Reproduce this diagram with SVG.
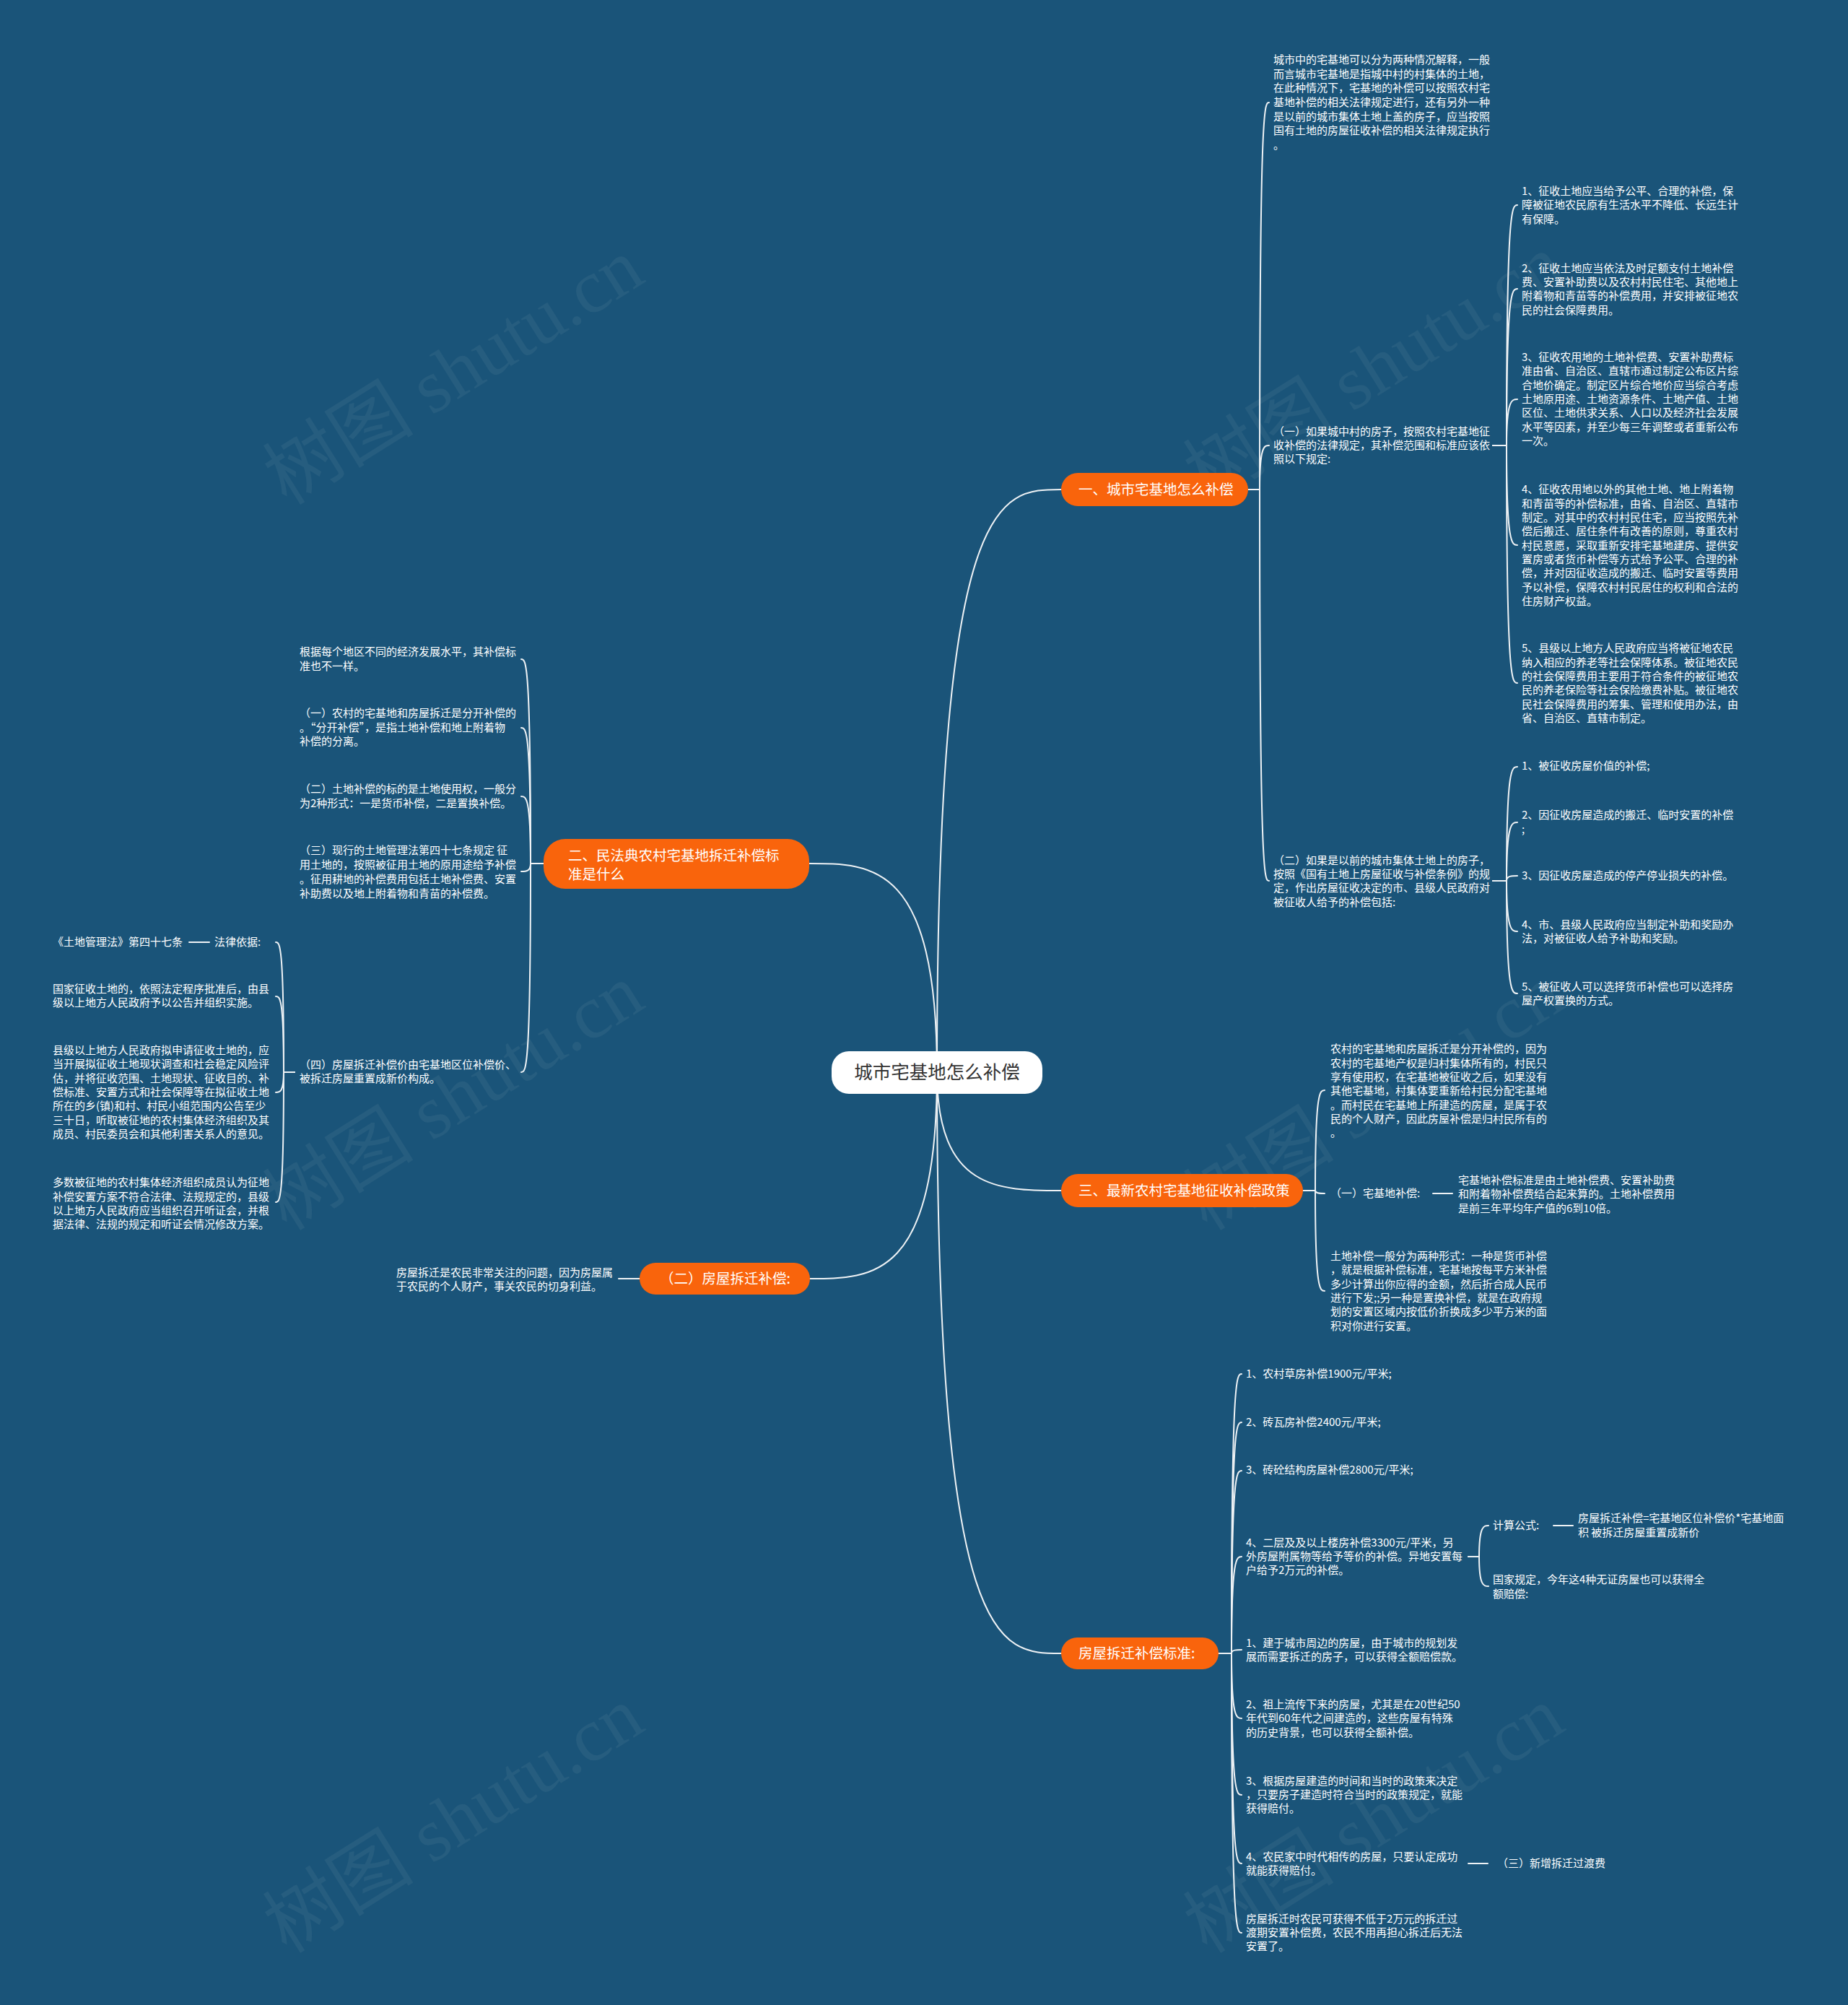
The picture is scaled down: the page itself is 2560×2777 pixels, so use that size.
<svg xmlns="http://www.w3.org/2000/svg" width="2560" height="2777" viewBox="0 0 2560 2777">
<style>
.t{font-family:"Noto Sans CJK SC","Noto Sans",sans-serif;font-size:15px;fill:#ffffff;dominant-baseline:central;transform:translateY(-1.8px)}
.b{font-size:19.5px}
.r{font-size:25.5px;fill:#333333;text-anchor:middle;transform:translateY(-3.5px)}
.ob{fill:#f9640c}
.c path{fill:none;stroke:#eef2f5;stroke-width:2;stroke-linecap:round}
.wm{font-family:"Liberation Serif","Noto Sans CJK SC",serif;font-size:105px;fill:#c8d2da;fill-opacity:0.07}
</style>
<rect width="2560" height="2777" fill="#1a5479"/>
<g id="watermarks">
<text class="wm" text-anchor="middle" transform="translate(647,545) rotate(-32)">树图 shutu.cn</text>
<text class="wm" text-anchor="middle" transform="translate(1922,540) rotate(-32)">树图 shutu.cn</text>
<text class="wm" text-anchor="middle" transform="translate(647,1550) rotate(-32)">树图 shutu.cn</text>
<text class="wm" text-anchor="middle" transform="translate(1922,1550) rotate(-32)">树图 shutu.cn</text>
<text class="wm" text-anchor="middle" transform="translate(647,2551) rotate(-32)">树图 shutu.cn</text>
<text class="wm" text-anchor="middle" transform="translate(1922,2551) rotate(-32)">树图 shutu.cn</text>
</g>
<g id="connectors" class="c">
<path d="M1298,1485 C1298,678 1384,678 1470,678"/>
<path d="M1298,1485 C1298,1196 1209,1196 1121,1196"/>
<path d="M1298,1485 C1298,1649 1384,1649 1470,1649"/>
<path d="M1298,1485 C1298,1771 1210,1771 1122,1771"/>
<path d="M1298,1485 C1298,2290 1384,2290 1470,2290"/>
<path d="M1729,678 H1745 C1745,142 1751.5,142 1758,142"/>
<path d="M1729,678 H1745 C1745,617 1751.5,617 1758,617"/>
<path d="M1729,678 H1745 C1745,1220 1751.5,1220 1758,1220"/>
<path d="M2068,617 H2087 C2087,284 2094.5,284 2102,284"/>
<path d="M2068,617 H2087 C2087,400 2094.5,400 2102,400"/>
<path d="M2068,617 H2087 C2087,553 2094.5,553 2102,553"/>
<path d="M2068,617 H2087 C2087,755 2094.5,755 2102,755"/>
<path d="M2068,617 H2087 C2087,946 2094.5,946 2102,946"/>
<path d="M2068,1220 H2087 C2087,1062 2094.5,1062 2102,1062"/>
<path d="M2068,1220 H2087 C2087,1139 2094.5,1139 2102,1139"/>
<path d="M2068,1220 H2087 C2087,1213 2094.5,1213 2102,1213"/>
<path d="M2068,1220 H2087 C2087,1290 2094.5,1290 2102,1290"/>
<path d="M2068,1220 H2087 C2087,1376 2094.5,1376 2102,1376"/>
<path d="M753,1196 H735 C735,913 728.5,913 722,913"/>
<path d="M753,1196 H735 C735,1008 728.5,1008 722,1008"/>
<path d="M753,1196 H735 C735,1103 728.5,1103 722,1103"/>
<path d="M753,1196 H735 C735,1207 728.5,1207 722,1207"/>
<path d="M753,1196 H735 C735,1485 728.5,1485 722,1485"/>
<path d="M408,1485 H393 C393,1305 387.5,1305 382,1305"/>
<path d="M408,1485 H393 C393,1380 387.5,1380 382,1380"/>
<path d="M408,1485 H393 C393,1513 387.5,1513 382,1513"/>
<path d="M408,1485 H393 C393,1665 387.5,1665 382,1665"/>
<path d="M262,1305 H290"/>
<path d="M886,1771 H857"/>
<path d="M1805,1649 H1822 C1822,1510 1828.5,1510 1835,1510"/>
<path d="M1805,1649 H1822 C1822,1653 1828.5,1653 1835,1653"/>
<path d="M1805,1649 H1822 C1822,1788 1828.5,1788 1835,1788"/>
<path d="M1985,1653 H2012"/>
<path d="M1688,2290 H1706 C1706,1903 1713,1903 1720,1903"/>
<path d="M1688,2290 H1706 C1706,1970 1713,1970 1720,1970"/>
<path d="M1688,2290 H1706 C1706,2037 1713,2037 1720,2037"/>
<path d="M1688,2290 H1706 C1706,2156 1713,2156 1720,2156"/>
<path d="M1688,2290 H1706 C1706,2285 1713,2285 1720,2285"/>
<path d="M1688,2290 H1706 C1706,2380 1713,2380 1720,2380"/>
<path d="M1688,2290 H1706 C1706,2486 1713,2486 1720,2486"/>
<path d="M1688,2290 H1706 C1706,2581 1713,2581 1720,2581"/>
<path d="M1688,2290 H1706 C1706,2677 1713,2677 1720,2677"/>
<path d="M2034,2156 H2049 C2049,2113 2055.5,2113 2062,2113"/>
<path d="M2034,2156 H2049 C2049,2197 2055.5,2197 2062,2197"/>
<path d="M2152,2113 H2179"/>
<path d="M2034,2581 H2061"/>
</g>
<g id="root">
<rect x="1152" y="1456" width="292" height="59" rx="24" fill="#ffffff"/>
<text class="t r" x="1298" y="1486">城市宅基地怎么补偿</text>
</g>
<g id="b1">
<rect class="ob" x="1470" y="655" width="259" height="46" rx="23"/>
<text class="t b" x="1494" y="678">一、城市宅基地怎么补偿</text>
</g>
<g id="b2">
<rect class="ob" x="753" y="1162" width="368" height="69" rx="30"/>
<text class="t b"><tspan x="787" y="1185">二、民法典农村宅基地拆迁补偿标</tspan><tspan x="787" y="1211">准是什么</tspan></text>
</g>
<g id="b3">
<rect class="ob" x="1470" y="1626" width="335" height="46" rx="23"/>
<text class="t b" x="1494" y="1649">三、最新农村宅基地征收补偿政策</text>
</g>
<g id="b4">
<rect class="ob" x="886" y="1749" width="236" height="44" rx="22"/>
<text class="t b" x="914" y="1771">（二）房屋拆迁补偿:</text>
</g>
<g id="b5">
<rect class="ob" x="1470" y="2268" width="218" height="44" rx="22"/>
<text class="t b" x="1494" y="2290">房屋拆迁补偿标准:</text>
</g>
<g id="n1a">
<text class="t"><tspan x="1764" y="82.7">城市中的宅基地可以分为两种情况解释，一般</tspan><tspan x="1764" y="102.4">而言城市宅基地是指城中村的村集体的土地，</tspan><tspan x="1764" y="122.1">在此种情况下，宅基地的补偿可以按照农村宅</tspan><tspan x="1764" y="141.8">基地补偿的相关法律规定进行，还有另外一种</tspan><tspan x="1764" y="161.5">是以前的城市集体土地上盖的房子，应当按照</tspan><tspan x="1764" y="181.2">国有土地的房屋征收补偿的相关法律规定执行</tspan><tspan x="1764" y="200.9">。</tspan></text>
</g>
<g id="n1b">
<text class="t"><tspan x="1764" y="597.7">（一）如果城中村的房子，按照农村宅基地征</tspan><tspan x="1764" y="617">收补偿的法律规定，其补偿范围和标准应该依</tspan><tspan x="1764" y="636.3">照以下规定:</tspan></text>
</g>
<g id="n1b1">
<text class="t"><tspan x="2108" y="265">1、征收土地应当给予公平、合理的补偿，保</tspan><tspan x="2108" y="284.3">障被征地农民原有生活水平不降低、长远生计</tspan><tspan x="2108" y="303.6">有保障。</tspan></text>
</g>
<g id="n1b2">
<text class="t"><tspan x="2108" y="371.7">2、征收土地应当依法及时足额支付土地补偿</tspan><tspan x="2108" y="391">费、安置补助费以及农村村民住宅、其他地上</tspan><tspan x="2108" y="410.3">附着物和青苗等的补偿费用，并安排被征地农</tspan><tspan x="2108" y="429.6">民的社会保障费用。</tspan></text>
</g>
<g id="n1b3">
<text class="t"><tspan x="2108" y="495">3、征收农用地的土地补偿费、安置补助费标</tspan><tspan x="2108" y="514.3">准由省、自治区、直辖市通过制定公布区片综</tspan><tspan x="2108" y="533.6">合地价确定。制定区片综合地价应当综合考虑</tspan><tspan x="2108" y="552.9">土地原用途、土地资源条件、土地产值、土地</tspan><tspan x="2108" y="572.2">区位、土地供求关系、人口以及经济社会发展</tspan><tspan x="2108" y="591.5">水平等因素，并至少每三年调整或者重新公布</tspan><tspan x="2108" y="610.8">一次。</tspan></text>
</g>
<g id="n1b4">
<text class="t"><tspan x="2108" y="678.3">4、征收农用地以外的其他土地、地上附着物</tspan><tspan x="2108" y="697.6">和青苗等的补偿标准，由省、自治区、直辖市</tspan><tspan x="2108" y="716.9">制定。对其中的农村村民住宅，应当按照先补</tspan><tspan x="2108" y="736.2">偿后搬迁、居住条件有改善的原则，尊重农村</tspan><tspan x="2108" y="755.5">村民意愿，采取重新安排宅基地建房、提供安</tspan><tspan x="2108" y="774.8">置房或者货币补偿等方式给予公平、合理的补</tspan><tspan x="2108" y="794.1">偿，并对因征收造成的搬迁、临时安置等费用</tspan><tspan x="2108" y="813.4">予以补偿，保障农村村民居住的权利和合法的</tspan><tspan x="2108" y="832.7">住房财产权益。</tspan></text>
</g>
<g id="n1b5">
<text class="t"><tspan x="2108" y="898.3">5、县级以上地方人民政府应当将被征地农民</tspan><tspan x="2108" y="917.6">纳入相应的养老等社会保障体系。被征地农民</tspan><tspan x="2108" y="936.9">的社会保障费用主要用于符合条件的被征地农</tspan><tspan x="2108" y="956.2">民的养老保险等社会保险缴费补贴。被征地农</tspan><tspan x="2108" y="975.5">民社会保障费用的筹集、管理和使用办法，由</tspan><tspan x="2108" y="994.8">省、自治区、直辖市制定。</tspan></text>
</g>
<g id="n1c">
<text class="t"><tspan x="1764" y="1191.7">（二）如果是以前的城市集体土地上的房子，</tspan><tspan x="1764" y="1211">按照《国有土地上房屋征收与补偿条例》的规</tspan><tspan x="1764" y="1230.3">定，作出房屋征收决定的市、县级人民政府对</tspan><tspan x="1764" y="1249.6">被征收人给予的补偿包括:</tspan></text>
</g>
<g id="n1c1"><text class="t" x="2108" y="1061.7">1、被征收房屋价值的补偿;</text></g>
<g id="n1c2"><text class="t"><tspan x="2108" y="1129.3">2、因征收房屋造成的搬迁、临时安置的补偿</tspan><tspan x="2108" y="1148.6">;</tspan></text></g>
<g id="n1c3"><text class="t" x="2108" y="1213.3">3、因征收房屋造成的停产停业损失的补偿。</text></g>
<g id="n1c4"><text class="t"><tspan x="2108" y="1280.7">4、市、县级人民政府应当制定补助和奖励办</tspan><tspan x="2108" y="1300">法，对被征收人给予补助和奖励。</tspan></text></g>
<g id="n1c5"><text class="t"><tspan x="2108" y="1366.7">5、被征收人可以选择货币补偿也可以选择房</tspan><tspan x="2108" y="1386">屋产权置换的方式。</tspan></text></g>
<g id="n2a"><text class="t"><tspan x="415" y="903.3">根据每个地区不同的经济发展水平，其补偿标</tspan><tspan x="415" y="922.6">准也不一样。</tspan></text></g>
<g id="n2b"><text class="t"><tspan x="415" y="988.3">（一）农村的宅基地和房屋拆迁是分开补偿的</tspan><tspan x="415" y="1007.6">。“分开补偿”，是指土地补偿和地上附着物</tspan><tspan x="415" y="1026.9">补偿的分离。</tspan></text></g>
<g id="n2c"><text class="t"><tspan x="415" y="1093.3">（二）土地补偿的标的是土地使用权，一般分</tspan><tspan x="415" y="1112.6">为2种形式：一是货币补偿，二是置换补偿。</tspan></text></g>
<g id="n2d"><text class="t"><tspan x="415" y="1177.7">（三）现行的土地管理法第四十七条规定 征</tspan><tspan x="415" y="1197.7">用土地的，按照被征用土地的原用途给予补偿</tspan><tspan x="415" y="1217.7">。征用耕地的补偿费用包括土地补偿费、安置</tspan><tspan x="415" y="1237.7">补助费以及地上附着物和青苗的补偿费。</tspan></text></g>
<g id="n2e"><text class="t"><tspan x="415" y="1475">（四）房屋拆迁补偿价由宅基地区位补偿价、</tspan><tspan x="415" y="1494.3">被拆迁房屋重置成新价构成。</tspan></text></g>
<g id="n2e1"><text class="t" x="297" y="1305">法律依据:</text></g>
<g id="n2e1a"><text class="t" x="73" y="1305">《土地管理法》第四十七条</text></g>
<g id="n2e2"><text class="t"><tspan x="73" y="1370">国家征收土地的，依照法定程序批准后，由县</tspan><tspan x="73" y="1389.3">级以上地方人民政府予以公告并组织实施。</tspan></text></g>
<g id="n2e3"><text class="t"><tspan x="73" y="1455">县级以上地方人民政府拟申请征收土地的，应</tspan><tspan x="73" y="1474.3">当开展拟征收土地现状调查和社会稳定风险评</tspan><tspan x="73" y="1493.6">估，并将征收范围、土地现状、征收目的、补</tspan><tspan x="73" y="1512.9">偿标准、安置方式和社会保障等在拟征收土地</tspan><tspan x="73" y="1532.2">所在的乡(镇)和村、村民小组范围内公告至少</tspan><tspan x="73" y="1551.5">三十日，听取被征地的农村集体经济组织及其</tspan><tspan x="73" y="1570.8">成员、村民委员会和其他利害关系人的意见。</tspan></text></g>
<g id="n2e4"><text class="t"><tspan x="73" y="1638.3">多数被征地的农村集体经济组织成员认为征地</tspan><tspan x="73" y="1657.6">补偿安置方案不符合法律、法规规定的，县级</tspan><tspan x="73" y="1676.9">以上地方人民政府应当组织召开听证会，并根</tspan><tspan x="73" y="1696.2">据法律、法规的规定和听证会情况修改方案。</tspan></text></g>
<g id="n4a"><text class="t"><tspan x="549" y="1762.5">房屋拆迁是农民非常关注的问题，因为房屋属</tspan><tspan x="549" y="1781.8">于农民的个人财产，事关农民的切身利益。</tspan></text></g>
<g id="n3a"><text class="t"><tspan x="1843" y="1453.3">农村的宅基地和房屋拆迁是分开补偿的，因为</tspan><tspan x="1843" y="1472.6">农村的宅基地产权是归村集体所有的，村民只</tspan><tspan x="1843" y="1491.9">享有使用权，在宅基地被征收之后，如果没有</tspan><tspan x="1843" y="1511.2">其他宅基地，村集体要重新给村民分配宅基地</tspan><tspan x="1843" y="1530.5">。而村民在宅基地上所建造的房屋，是属于农</tspan><tspan x="1843" y="1549.8">民的个人财产，因此房屋补偿是归村民所有的</tspan><tspan x="1843" y="1569.1">。</tspan></text></g>
<g id="n3b"><text class="t" x="1843" y="1653">（一）宅基地补偿:</text></g>
<g id="n3b1"><text class="t"><tspan x="2020" y="1635">宅基地补偿标准是由土地补偿费、安置补助费</tspan><tspan x="2020" y="1654.3">和附着物补偿费结合起来算的。土地补偿费用</tspan><tspan x="2020" y="1673.6">是前三年平均年产值的6到10倍。</tspan></text></g>
<g id="n3c"><text class="t"><tspan x="1843" y="1740">土地补偿一般分为两种形式：一种是货币补偿</tspan><tspan x="1843" y="1759.3">，就是根据补偿标准，宅基地按每平方米补偿</tspan><tspan x="1843" y="1778.6">多少计算出你应得的金额，然后折合成人民币</tspan><tspan x="1843" y="1797.9">进行下发;;另一种是置换补偿，就是在政府规</tspan><tspan x="1843" y="1817.2">划的安置区域内按低价折换成多少平方米的面</tspan><tspan x="1843" y="1836.5">积对你进行安置。</tspan></text></g>
<g id="n5a"><text class="t" x="1726" y="1903.3">1、农村草房补偿1900元/平米;</text></g>
<g id="n5b"><text class="t" x="1726" y="1970">2、砖瓦房补偿2400元/平米;</text></g>
<g id="n5c"><text class="t" x="1726" y="2036.7">3、砖砼结构房屋补偿2800元/平米;</text></g>
<g id="n5d"><text class="t"><tspan x="1726" y="2136.7">4、二层及及以上楼房补偿3300元/平米，另</tspan><tspan x="1726" y="2156">外房屋附属物等给予等价的补偿。异地安置每</tspan><tspan x="1726" y="2175.3">户给予2万元的补偿。</tspan></text></g>
<g id="n5d1"><text class="t" x="2068" y="2113.3">计算公式:</text></g>
<g id="n5d1a"><text class="t"><tspan x="2186" y="2103.3">房屋拆迁补偿=宅基地区位补偿价*宅基地面</tspan><tspan x="2186" y="2122.6">积 被拆迁房屋重置成新价</tspan></text></g>
<g id="n5d2"><text class="t"><tspan x="2068" y="2188.3">国家规定，今年这4种无证房屋也可以获得全</tspan><tspan x="2068" y="2207.6">额赔偿:</tspan></text></g>
<g id="n5e"><text class="t"><tspan x="1726" y="2276">1、建于城市周边的房屋，由于城市的规划发</tspan><tspan x="1726" y="2295.3">展而需要拆迁的房子，可以获得全额赔偿款。</tspan></text></g>
<g id="n5f"><text class="t"><tspan x="1726" y="2361">2、祖上流传下来的房屋，尤其是在20世纪50</tspan><tspan x="1726" y="2380.3">年代到60年代之间建造的，这些房屋有特殊</tspan><tspan x="1726" y="2399.6">的历史背景，也可以获得全额补偿。</tspan></text></g>
<g id="n5g"><text class="t"><tspan x="1726" y="2466.7">3、根据房屋建造的时间和当时的政策来决定</tspan><tspan x="1726" y="2486">，只要房子建造时符合当时的政策规定，就能</tspan><tspan x="1726" y="2505.3">获得赔付。</tspan></text></g>
<g id="n5h"><text class="t"><tspan x="1726" y="2571.7">4、农民家中时代相传的房屋，只要认定成功</tspan><tspan x="1726" y="2591">就能获得赔付。</tspan></text></g>
<g id="n5h1"><text class="t" x="2074" y="2581">（三）新增拆迁过渡费</text></g>
<g id="n5i"><text class="t"><tspan x="1726" y="2657.7">房屋拆迁时农民可获得不低于2万元的拆迁过</tspan><tspan x="1726" y="2677">渡期安置补偿费，农民不用再担心拆迁后无法</tspan><tspan x="1726" y="2696.3">安置了。</tspan></text></g>
</svg>
